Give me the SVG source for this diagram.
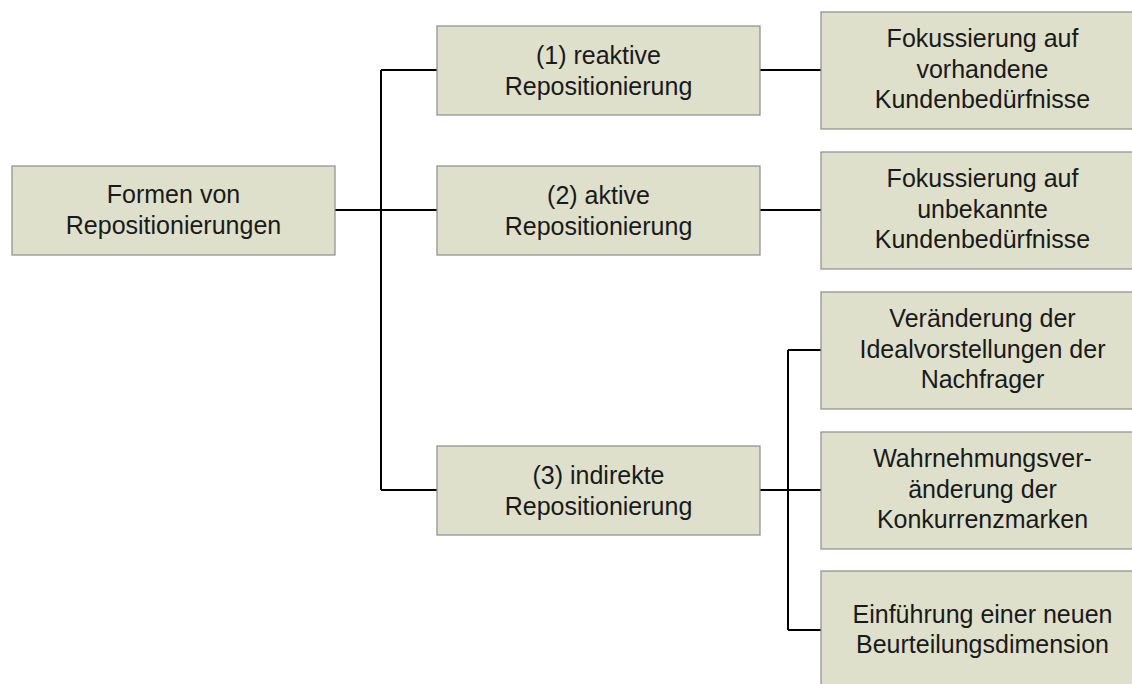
<svg xmlns="http://www.w3.org/2000/svg" width="1132" height="684" viewBox="0 0 1132 684">
<style>
.box{fill:#dee0cb;stroke:#8c8c8c;stroke-width:1.2}
.t{font-family:"Liberation Sans",Arial,sans-serif;font-size:25px;fill:#1a1a1a;text-anchor:middle}
.c{fill:none;stroke:#000;stroke-width:2}
</style>
<rect width="1132" height="684" fill="#fff"/>
<g id="connectors">
<path class="c" d="M335,210H437M381,70V490M381,70H437M381,490H437"/>
<path class="c" d="M760,70H821M760,210H821"/>
<path class="c" d="M760,490H788M788,350V630M788,350H821M788,490H821M788,630H821"/>
</g>
<g id="root">
<rect class="box" x="12" y="166" width="323" height="89"/>
<text class="t" x="173.5" y="203">Formen von</text>
<text class="t" x="173.5" y="234">Repositionierungen</text>
</g>
<g id="n1">
<rect class="box" x="437" y="26" width="323" height="89"/>
<text class="t" x="598.5" y="64">(1) reaktive</text>
<text class="t" x="598.5" y="95">Repositionierung</text>
</g>
<g id="n2">
<rect class="box" x="437" y="166" width="323" height="89"/>
<text class="t" x="598.5" y="204">(2) aktive</text>
<text class="t" x="598.5" y="235">Repositionierung</text>
</g>
<g id="n3">
<rect class="box" x="437" y="446" width="323" height="89"/>
<text class="t" x="598.5" y="484">(3) indirekte</text>
<text class="t" x="598.5" y="515">Repositionierung</text>
</g>
<g id="n1a">
<rect class="box" x="821" y="12" width="323" height="117"/>
<text class="t" x="982.5" y="47">Fokussierung auf</text>
<text class="t" x="982.5" y="78">vorhandene</text>
<text class="t" x="982.5" y="108">Kundenbedürfnisse</text>
</g>
<g id="n2a">
<rect class="box" x="821" y="152" width="323" height="117"/>
<text class="t" x="982.5" y="187">Fokussierung auf</text>
<text class="t" x="982.5" y="218">unbekannte</text>
<text class="t" x="982.5" y="248">Kundenbedürfnisse</text>
</g>
<g id="n3a">
<rect class="box" x="821" y="292" width="323" height="117"/>
<text class="t" x="982.5" y="327">Veränderung der</text>
<text class="t" x="982.5" y="358">Idealvorstellungen der</text>
<text class="t" x="982.5" y="388">Nachfrager</text>
</g>
<g id="n3b">
<rect class="box" x="821" y="432" width="323" height="117"/>
<text class="t" x="982.5" y="467">Wahrnehmungsver-</text>
<text class="t" x="982.5" y="498">änderung der</text>
<text class="t" x="982.5" y="528">Konkurrenzmarken</text>
</g>
<g id="n3c">
<rect class="box" x="821" y="571" width="323" height="117"/>
<text class="t" x="982.5" y="623">Einführung einer neuen</text>
<text class="t" x="982.5" y="653">Beurteilungsdimension</text>
</g>
</svg>
